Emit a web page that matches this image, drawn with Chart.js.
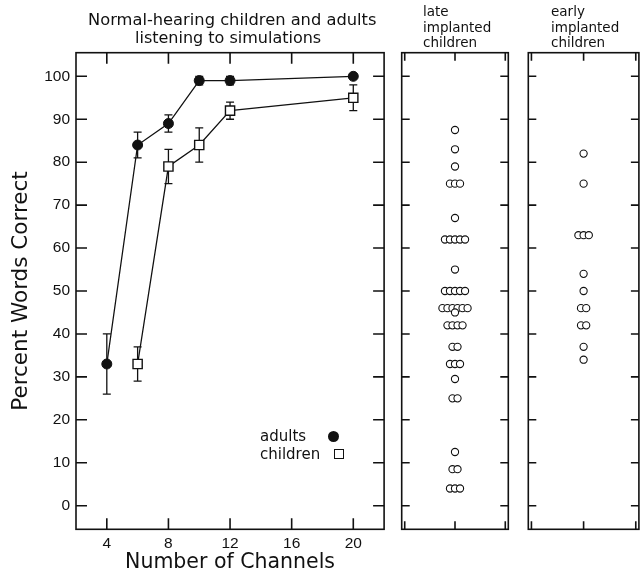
<!DOCTYPE html>
<html><head><meta charset="utf-8">
<script src="https://cdn.jsdelivr.net/npm/chart.js@4.4.1/dist/chart.umd.min.js"></script>
<style>
html,body{margin:0;padding:0;background:#fff;}
#wrap{position:relative;width:644px;height:575px;overflow:hidden;font-family:"DejaVu Sans",sans-serif;color:#111;}
canvas{position:absolute;top:0;}
.t{position:absolute;white-space:nowrap;}
.dot{position:absolute;width:11px;height:11px;border-radius:50%;background:#111;}
.sq{position:absolute;width:8px;height:8px;border:1.4px solid #111;background:#fff;}
</style></head><body>
<div id="wrap">
<canvas id="main" width="400" height="575" style="left:0px"></canvas>
<canvas id="late" width="120" height="575" style="left:395px"></canvas>
<canvas id="early" width="124" height="575" style="left:520px"></canvas>
<div class="t" style="left:88px;top:11px;font-size:16.3px;line-height:18px">Normal-hearing children and adults</div>
<div class="t" style="left:135px;top:29px;font-size:16px;line-height:18px">listening to simulations</div>
<div class="t" style="left:423px;top:4px;font-size:13.5px;line-height:15.5px">late<br>implanted<br>children</div>
<div class="t" style="left:551px;top:4px;font-size:13.5px;line-height:15.5px">early<br>implanted<br>children</div>
<div class="t" style="left:260px;top:427px;font-size:15px;line-height:18px">adults</div>
<div class="dot" style="left:327.5px;top:430.5px"></div>
<div class="t" style="left:260px;top:445px;font-size:15px;line-height:18px">children</div>
<div class="sq" style="left:334px;top:449px"></div>
</div>
<script>
// ---- data ----
const xTickValues = [4, 8, 12, 16, 20];
const yTickValues = [0, 10, 20, 30, 40, 50, 60, 70, 80, 90, 100];
const sideTickValues = [-1, 0, 1];

const adultChannels = [4, 6, 8, 10, 12, 20];
const adultScores   = [33, 84, 89, 99, 99, 100];
const adultErrLow   = [26, 81, 87, 98, 98, 100];
const adultErrHigh  = [40, 87, 91, 100, 100, 100];

const childChannels = [6, 8, 10, 12, 20];
const childScores   = [33, 79, 84, 92, 95];
const childErrLow   = [29, 75, 80, 90, 92];
const childErrHigh  = [37, 83, 88, 94, 98];

const lateImplanted = [87.5, 83, 79, 75, 75, 75, 67, 62, 62, 62, 62, 62, 55,
  50, 50, 50, 50, 50, 46, 46, 46, 46, 46, 46, 45, 42, 42, 42, 42, 37, 37,
  33, 33, 33, 29.5, 25, 25, 12.5, 8.5, 8.5, 4, 4, 4];
const earlyImplanted = [82, 75, 63, 63, 63, 54, 50, 46, 46, 42, 42, 37, 34];

// ---- helpers ----
const INK = '#111';
const Y_MIN = -5.5, Y_MAX = 105.5;
const JITTER = 0.1;

function spread(values) {
  const counts = {}, seen = {};
  values.forEach(v => counts[v] = (counts[v] || 0) + 1);
  return values.map(v => {
    seen[v] = (seen[v] === undefined) ? 0 : seen[v] + 1;
    return {x: (seen[v] - (counts[v] - 1) / 2) * JITTER, y: v};
  });
}
const pts = (xs, ys) => xs.map((x, i) => ({x, y: ys[i]}));

const framePlugin = {
  id: 'frame',
  afterDatasetsDraw(chart, args, o) {
    const {ctx, chartArea: a, scales: {x, y}} = chart;
    ctx.save();
    ctx.strokeStyle = INK;
    ctx.lineWidth = o.lineWidth;
    ctx.strokeRect(a.left, a.top, a.right - a.left, a.bottom - a.top);
    ctx.beginPath();
    o.xTicks.forEach(v => {
      const p = x.getPixelForValue(v);
      ctx.moveTo(p, a.top); ctx.lineTo(p, a.top + o.len);
      ctx.moveTo(p, a.bottom); ctx.lineTo(p, a.bottom - o.len);
    });
    o.yTicks.forEach(v => {
      const p = y.getPixelForValue(v);
      ctx.moveTo(a.left, p); ctx.lineTo(a.left + o.len, p);
      ctx.moveTo(a.right, p); ctx.lineTo(a.right - o.len, p);
    });
    ctx.stroke();
    ctx.restore();
  }
};

const errorBarPlugin = {
  id: 'errbars',
  beforeDatasetsDraw(chart, args, o) {
    const {ctx, scales: {x, y}} = chart;
    ctx.save();
    ctx.strokeStyle = INK;
    ctx.lineWidth = 1.3;
    ctx.beginPath();
    o.sets.forEach(s => {
      s.x.forEach((xv, i) => {
        const px = x.getPixelForValue(xv);
        const lo = y.getPixelForValue(s.lo[i]), hi = y.getPixelForValue(s.hi[i]);
        if (s.lo[i] === s.hi[i]) return;
        ctx.moveTo(px, lo); ctx.lineTo(px, hi);
        ctx.moveTo(px - 4, lo); ctx.lineTo(px + 4, lo);
        ctx.moveTo(px - 4, hi); ctx.lineTo(px + 4, hi);
      });
    });
    ctx.stroke();
    ctx.restore();
  }
};

const yScaleBase = {
  type: 'linear', min: Y_MIN, max: Y_MAX,
  afterBuildTicks: s => { s.ticks = yTickValues.map(v => ({value: v})); }
};

// ---- main chart ----
new Chart(document.getElementById('main'), {
  type: 'scatter',
  data: {
    datasets: [
      {
        label: 'children', data: pts(childChannels, childScores), showLine: true,
        borderColor: INK, borderWidth: 1.3, pointStyle: 'rect', pointRadius: 6.5,
        pointBackgroundColor: '#fff', pointBorderColor: INK, pointBorderWidth: 1.4
      },
      {
        label: 'adults', data: pts(adultChannels, adultScores), showLine: true,
        borderColor: INK, borderWidth: 1.3, pointStyle: 'circle', pointRadius: 5,
        pointBackgroundColor: INK, pointBorderColor: INK, pointBorderWidth: 1
      }
    ]
  },
  options: {
    responsive: false, animation: false, devicePixelRatio: 1,
    layout: {padding: {left: 0, right: 15.9, top: 52.7, bottom: 0}},
    plugins: {
      legend: {display: false}, tooltip: {enabled: false},
      frame: {lineWidth: 1.6, len: 11, xTicks: xTickValues, yTicks: yTickValues},
      errbars: {sets: [
        {x: adultChannels, lo: adultErrLow, hi: adultErrHigh},
        {x: childChannels, lo: childErrLow, hi: childErrHigh}
      ]}
    },
    scales: {
      x: {
        type: 'linear', position: 'bottom', min: 2, max: 22,
        afterBuildTicks: s => { s.ticks = xTickValues.map(v => ({value: v})); },
        afterFit: s => { s.height = 45.7; },
        grid: {display: false, drawTicks: false}, border: {display: false},
        ticks: {font: {family: 'Liberation Sans', size: 15.5}, color: INK, padding: 5.5, maxRotation: 0, autoSkip: false},
        title: {display: true, text: 'Number of Channels', color: INK,
          font: {family: 'DejaVu Sans', size: 20.5}, padding: {top: 0, bottom: 0}}
      },
      y: Object.assign({}, yScaleBase, {
        position: 'left',
        afterFit: s => { s.width = 76; },
        grid: {display: false, drawTicks: false}, border: {display: false},
        ticks: {font: {family: 'Liberation Sans', size: 15.5}, color: INK, padding: 6, autoSkip: false},
        title: {display: true, text: 'Percent Words Correct', color: INK,
          font: {family: 'DejaVu Sans', size: 21.5}, padding: {top: 8.5, bottom: 0}}
      })
    }
  },
  plugins: [errorBarPlugin, framePlugin]
});

// ---- side panels ----
function sidePanel(id, values, padL, padR) {
  new Chart(document.getElementById(id), {
    type: 'scatter',
    data: {datasets: [{
      label: id, data: spread(values), pointStyle: 'circle', pointRadius: 3.6,
      pointBackgroundColor: '#fff', pointBorderColor: INK, pointBorderWidth: 1.1
    }]},
    options: {
      responsive: false, animation: false, devicePixelRatio: 1,
      layout: {padding: {left: padL, right: padR, top: 52.7, bottom: 45.7}},
      plugins: {
        legend: {display: false}, tooltip: {enabled: false},
        frame: {lineWidth: 1.6, len: 8, xTicks: sideTickValues, yTicks: yTickValues}
      },
      scales: {
        x: {type: 'linear', min: -1.06, max: 1.06, display: false},
        y: Object.assign({}, yScaleBase, {display: false})
      }
    },
    plugins: [framePlugin]
  });
}
sidePanel('late', lateImplanted, 6.7, 6.7);
sidePanel('early', earlyImplanted, 8.3, 4.7);
</script>
</body></html>
